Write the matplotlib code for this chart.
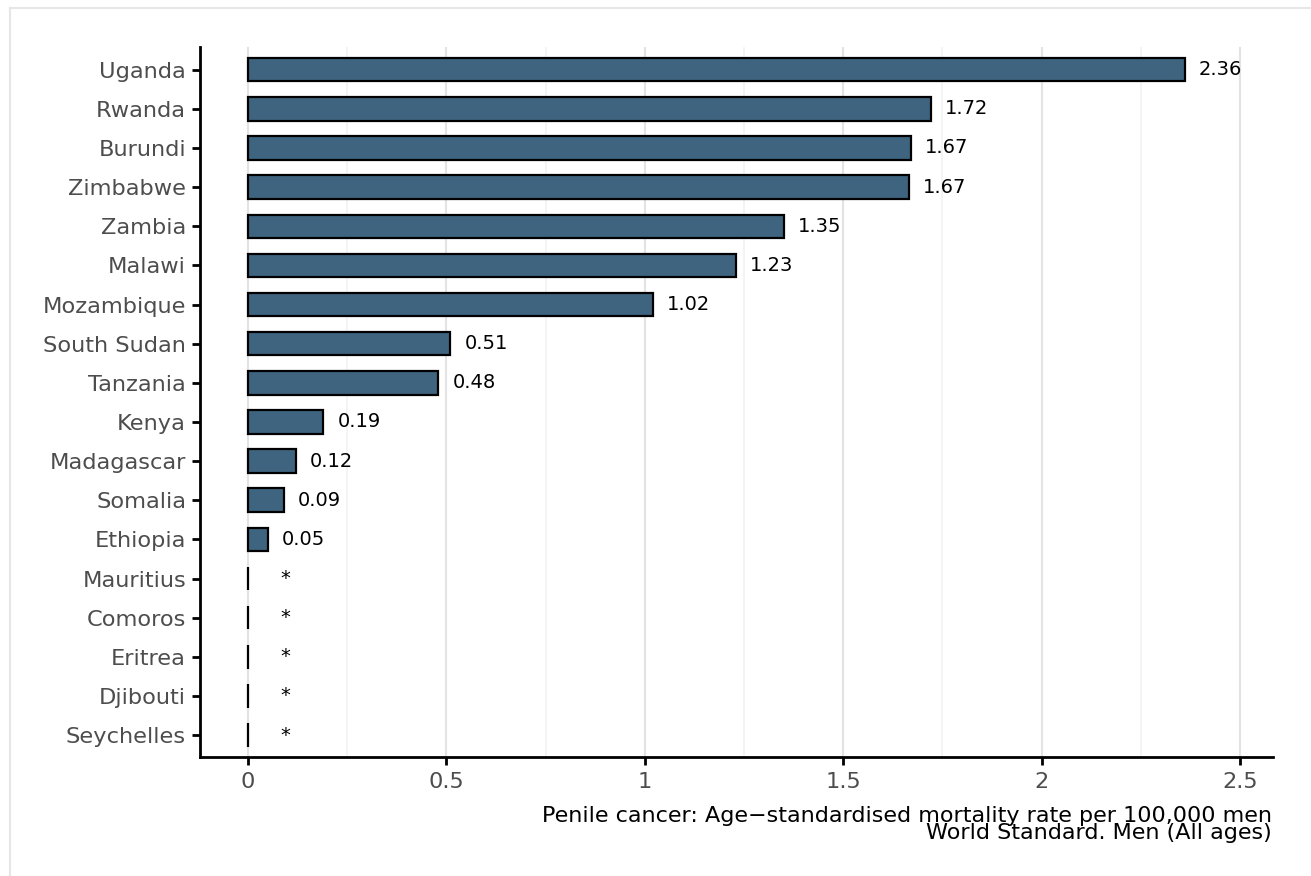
import numpy as np
import matplotlib
matplotlib.use('Agg')
import matplotlib.pyplot as plt
from matplotlib.lines import Line2D

# data (top to bottom)
countries = ['Uganda', 'Rwanda', 'Burundi', 'Zimbabwe', 'Zambia', 'Malawi',
             'Mozambique', 'South Sudan', 'Tanzania', 'Kenya', 'Madagascar',
             'Somalia', 'Ethiopia', 'Mauritius', 'Comoros', 'Eritrea',
             'Djibouti', 'Seychelles']
rates = [2.36, 1.72, 1.67, 1.665, 1.35, 1.23, 1.02, 0.51, 0.48, 0.19, 0.12,
         0.09, 0.05, 0, 0, 0, 0, 0]
labels = ['2.36', '1.72', '1.67', '1.67', '1.35', '1.23', '1.02', '0.51',
          '0.48', '0.19', '0.12', '0.09', '0.05', '*', '*', '*', '*', '*']
xticks = [0, 0.5, 1, 1.5, 2, 2.5]
xticklabels = ['0', '0.5', '1', '1.5', '2', '2.5']

W, H = 1311, 876
fig = plt.figure(figsize=(W / 100, H / 100), dpi=100)
ax = fig.add_axes([200 / W, 1 - 757 / H, (1273 - 200) / W, (757 - 47) / H])

n = len(countries)
ypos = np.arange(n)[::-1]
ax.barh(ypos, rates, height=0.6, color='#3e6480', edgecolor='black',
        linewidth=1.6, zorder=3)

for y, v, lab in zip(ypos, rates, labels):
    if lab == '*':
        ax.text(0.095, y, lab, ha='center', va='center', fontsize=14, color='black')
    else:
        ax.text(v + 0.035, y, lab, ha='left', va='center', fontsize=14, color='black')

ax.set_xlim(-0.121, 2.583)
ax.set_ylim(-0.56, n - 1 + 0.58)
ax.set_yticks(ypos)
ax.set_yticklabels(countries)
ax.set_xticks(xticks)
ax.set_xticklabels(xticklabels)
ax.set_xticks(np.arange(0.25, 2.6, 0.5), minor=True)

ax.grid(axis='x', which='major', color='#e3e3e3', linewidth=1.5, zorder=0)
ax.grid(axis='x', which='minor', color='#f2f2f2', linewidth=1.2, zorder=0)
ax.grid(axis='y', visible=False)
ax.tick_params(axis='both', which='major', length=6, width=2, color='black',
               labelsize=16.2, labelcolor='#4d4d4d', pad=4)
ax.tick_params(axis='x', which='minor', length=0)
ax.tick_params(axis='x', pad=5)

for s in ['top', 'right']:
    ax.spines[s].set_visible(False)
for s in ['left', 'bottom']:
    ax.spines[s].set_linewidth(2)

fig.text(1272 / W, 1 - 806 / H,
         'Penile cancer: Age\u2212standardised mortality rate per 100,000 men\nWorld Standard. Men (All ages)',
         ha='right', va='top', fontsize=16, color='black', linespacing=0.8,
         multialignment='right')

# light frame of the page around the figure
fig.add_artist(Line2D([9.5 / W, 9.5 / W], [0, 1 - 8 / H], transform=fig.transFigure,
                      color='#e6e6e6', linewidth=1.5))
fig.add_artist(Line2D([9.5 / W, 1], [1 - 8 / H, 1 - 8 / H], transform=fig.transFigure,
                      color='#e6e6e6', linewidth=1.5))

fig.savefig('out.png', dpi=100)
